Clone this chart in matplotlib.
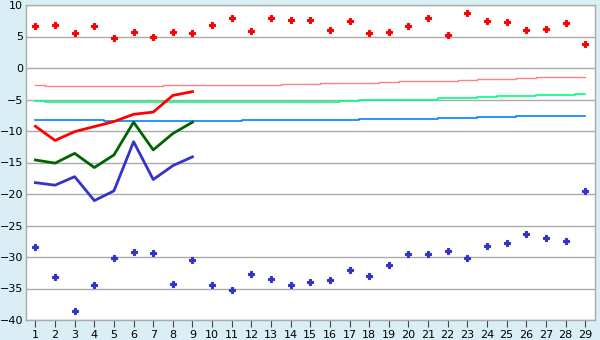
import matplotlib.pyplot as plt

x = list(range(1, 30))
x9 = list(range(1, 10))

# scatter points
hi_pts = [6.6, 6.9, 5.5, 6.6, 4.7, 5.65, 4.9, 5.65, 5.5, 6.8,
          7.9, 5.8, 8.0, 7.55, 7.55, 6.0, 7.4, 5.5, 5.65, 6.6,
          8.0, 5.2, 8.7, 7.4, 7.25, 6.0, 6.15, 7.1, 3.75]
lo_pts = [-28.45, -33.2, -38.6, -34.5, -30.2, -29.25, -29.4, -34.3, -30.4, -34.5,
          -35.3, -32.75, -33.55, -34.5, -34.0, -33.7, -32.1, -33.05, -31.3, -29.6,
          -29.6, -29.1, -30.2, -28.3, -27.8, -26.4, -27.0, -27.5, -19.6]

# thick lines, first 9 days
red_line = [-9.25, -11.5, -10.1, -9.3, -8.5, -7.35, -7.0, -4.35, -3.75]
green_line = [-14.6, -15.1, -13.55, -15.8, -13.8, -8.6, -13.0, -10.4, -8.6]
blue_line = [-18.2, -18.6, -17.25, -21.05, -19.5, -11.7, -17.7, -15.5, -14.1]

# thin stepped trend lines
pink_step = [-2.75] + [-2.9] * 6 + [-2.75] * 6 + [-2.6] * 2 + [-2.45] * 3 + [-2.3] \
    + [-2.1] * 3 + [-1.95] + [-1.8] * 2 + [-1.65] + [-1.5] + [-1.35] * 2
lgreen_step = [-5.25] + [-5.45] * 15 + [-5.3] + [-5.1] * 3 + [-5.0] + [-4.8] * 2 \
    + [-4.65] + [-4.5] * 2 + [-4.33] * 2 + [-4.17]
lblue_step = [-8.25] * 4 + [-8.45] * 7 + [-8.3] * 6 + [-8.1] * 4 + [-7.95] * 2 \
    + [-7.8] * 2 + [-7.6] * 4

bg = '#daeff5'
grid_c = '#aaaaaa'

fig = plt.figure(figsize=(6, 3.4), dpi=100, facecolor=bg)
ax = fig.add_axes([26/600, 20/340, 569/600, 315/340])
ax.set_facecolor('white')

ax.plot(x, pink_step, color='#ff8080', lw=1, drawstyle='steps-mid', zorder=2)
ax.plot(x, lgreen_step, color='#00ff80', lw=1.2, drawstyle='steps-mid', zorder=2)
ax.plot(x, lblue_step, color='#0080ff', lw=1.2, drawstyle='steps-mid', zorder=2)

ax.plot(x9, red_line, color='#ff0000', lw=2, zorder=3)
ax.plot(x9, green_line, color='#006400', lw=2, zorder=3)
ax.plot(x9, blue_line, color='#3333cc', lw=2, zorder=3)

ax.plot(x, hi_pts, ls='none', marker='P', ms=5, color='#ff0000', mew=0.8, zorder=4)
ax.plot(x, lo_pts, ls='none', marker='P', ms=5, color='#3333cc', mew=0.8, zorder=4)

ax.set_xlim(0.52, 29.5)
ax.set_ylim(-40, 10)
ax.set_xticks(x)
ax.set_yticks(range(-40, 11, 5))
ax.set_yticklabels([str(v).replace('-', '\u2212') for v in range(-40, 11, 5)])
ax.grid(axis='y', color=grid_c, lw=1)
ax.set_axisbelow(True)
for s in ax.spines.values():
    s.set_color(grid_c)
    s.set_linewidth(1)
ax.tick_params(axis='y', length=0, pad=2, labelsize=8)
ax.tick_params(axis='x', length=5, color='#444444', pad=2, labelsize=8)

fig.savefig('out.png', dpi=100, facecolor=bg)
